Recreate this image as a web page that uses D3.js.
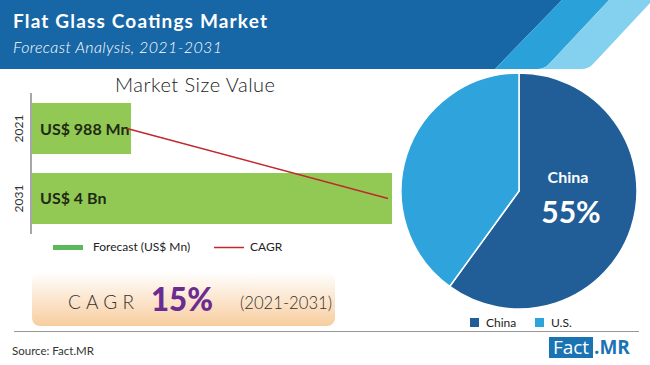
<!DOCTYPE html>
<html><head><meta charset="utf-8">
<script src="https://cdn.jsdelivr.net/npm/d3@7"></script>
<style>
html,body{margin:0;padding:0;background:#fff;}
svg{display:block;}
</style></head>
<body>
<svg id="c" width="650" height="365"></svg>
<script>
// ---- data ----
const title = "Flat Glass Coatings Market";
const subtitle = "Forecast Analysis, 2021-2031";
const barTitle = "Market Size Value";
const years = ["2021", "2031"];
const barValues = [1100, 4000];           // bar lengths as drawn (US$ Mn)
const barLabels = ["US$ 988 Mn", "US$ 4 Bn"];
const legendLabels = ["Forecast (US$ Mn)", "CAGR"];
const cagrText = ["CAGR", "15%", "(2021-2031)"];
const pieCategories = ["China", "U.S."];
const pieValues = [60, 40];               // shares as drawn
const pieLabel = ["China", "55%"];
const sourceText = "Source: Fact.MR";

const FONT = "Lato, 'Open Sans', sans-serif";
const svg = d3.select("#c");
const defs = svg.append("defs");

// ---- header ----
svg.append("path").attr("d","M0,0 L562,0 L495,69 L0,69 Z").attr("fill","#1766a6");
svg.append("path").attr("d","M562,0 L609,0 L550,63 Q545,69 537,69 L495,69 Z").attr("fill","#2ba1d9");
svg.append("path").attr("d","M609,0 L650,0 L650,3 L594,63 Q589,69 581,69 L537,69 Q545,69 550,63 Z").attr("fill","#84d0ef");
svg.append("text").attr("x",13).attr("y",28).attr("fill","#fff")
  .attr("font-family",FONT).attr("font-weight","bold").attr("font-size",19)
  .attr("textLength",254).attr("lengthAdjust","spacing").text(title);
svg.append("text").attr("x",13).attr("y",53).attr("fill","#fff")
  .attr("font-family",FONT).attr("font-style","italic").attr("font-weight","300").attr("font-size",16)
  .attr("textLength",209).attr("lengthAdjust","spacing").text(subtitle);

// ---- bar chart ----
const x = d3.scaleLinear().domain([0, 4000]).range([32, 392]);
const y = d3.scaleBand().domain(years).range([103, 224]).paddingInner(0.2714).paddingOuter(0);

svg.append("text").attr("x",115).attr("y",92).attr("fill","#222")
  .attr("font-family",FONT).attr("font-weight","300").attr("font-size",20)
  .attr("textLength",160).attr("lengthAdjust","spacing").text(barTitle);

svg.selectAll(".bar").data(years).enter().append("rect").attr("class","bar")
  .attr("x", x(0)).attr("y", d=>y(d)).attr("width", (d,i)=>x(barValues[i])-x(0)).attr("height", y.bandwidth())
  .attr("fill","#92c955");

// axis line
const yAxis = svg.append("g").attr("transform","translate(31,0)")
  .call(d3.axisLeft(y).tickSize(0).tickPadding(0).tickFormat(()=>""));
yAxis.select(".domain").remove();
svg.append("line").attr("x1",31).attr("x2",31).attr("y1",93).attr("y2",234).attr("stroke","#888").attr("stroke-width",1.5);

svg.selectAll(".yl").data(years).enter().append("text").attr("class","yl")
  .attr("transform", d=>`translate(23,${y(d)+y.bandwidth()/2}) rotate(-90)`)
  .attr("text-anchor","middle").attr("fill","#333")
  .attr("font-family",FONT).attr("font-size",12).text(d=>d);

svg.selectAll(".bl").data(years).enter().append("text").attr("class","bl")
  .attr("x",40).attr("y", d=>y(d)+y.bandwidth()/2+6)
  .attr("fill","#1f2a14").attr("font-family",FONT).attr("font-weight","bold").attr("font-size",16)
  .text((d,i)=>barLabels[i]);

// CAGR line
const line = d3.line().x((d,i)=>x(barValues[i])-4).y(d=>y(d)+y.bandwidth()/2);
svg.append("path").datum(years).attr("d", line).attr("fill","none").attr("stroke","#c1272d").attr("stroke-width",1.5);

// legend
svg.append("rect").attr("x",53).attr("y",245).attr("width",30).attr("height",5).attr("fill","#5cb85c");
svg.append("text").attr("x",93).attr("y",251).attr("fill","#222").attr("font-family",FONT).attr("font-size",12).text(legendLabels[0]);
svg.append("line").attr("x1",214).attr("x2",244).attr("y1",247.5).attr("y2",247.5).attr("stroke","#c1272d").attr("stroke-width",1.5);
svg.append("text").attr("x",250).attr("y",251).attr("fill","#222").attr("font-family",FONT).attr("font-size",12).text(legendLabels[1]);

// ---- CAGR box ----
const g = defs.append("linearGradient").attr("id","cg").attr("x1",0).attr("y1",0).attr("x2",0).attr("y2",1);
g.append("stop").attr("offset","0%").attr("stop-color","#ffffff");
g.append("stop").attr("offset","100%").attr("stop-color","#f8cd9e");
svg.append("rect").attr("x",32).attr("y",272).attr("width",303).attr("height",54).attr("rx",8).attr("fill","url(#cg)");
svg.append("text").attr("x",68).attr("y",309).attr("fill","#333").attr("font-family",FONT)
  .attr("font-size",19).attr("font-weight","300").attr("textLength",66).attr("lengthAdjust","spacing").text(cagrText[0]);
svg.append("text").attr("x",151).attr("y",311).attr("fill","#6b2c91").attr("font-family",FONT)
  .attr("font-size",33).attr("font-weight","900").attr("textLength",62).attr("lengthAdjust","spacingAndGlyphs").text(cagrText[1]);
svg.append("text").attr("x",240).attr("y",309).attr("fill","#333").attr("font-family",FONT)
  .attr("font-size",17).attr("font-weight","300").attr("textLength",92).attr("lengthAdjust","spacingAndGlyphs").text(cagrText[2]);

// separator and source
svg.append("line").attr("x1",14).attr("x2",639).attr("y1",331.5).attr("y2",331.5).attr("stroke","#999").attr("stroke-width",1.2);
svg.append("text").attr("x",12).attr("y",355).attr("fill","#333").attr("font-family",FONT).attr("font-size",11.5).text(sourceText);

// ---- pie ----
const pieColors = d3.scaleOrdinal().domain(pieCategories).range(["#215e97","#2ea3dc"]);
const pie = d3.pie().sort(null).value(d=>d.v);
const arc = d3.arc().innerRadius(0).outerRadius(118);
const pg = svg.append("g").attr("transform","translate(519,191)");
pg.selectAll("path").data(pie(pieCategories.map((c,i)=>({c, v: pieValues[i]})))).enter().append("path")
  .attr("d", arc).attr("fill", d=>pieColors(d.data.c)).attr("stroke","#fff").attr("stroke-width",1.5);
svg.append("text").attr("x",568).attr("y",183).attr("text-anchor","middle").attr("fill","#fff")
  .attr("font-family",FONT).attr("font-weight","bold").attr("font-size",16).text(pieLabel[0]);
svg.append("text").attr("x",571).attr("y",223).attr("text-anchor","middle").attr("fill","#fff")
  .attr("font-family",FONT).attr("font-weight","bold").attr("font-size",30).text(pieLabel[1]);

// pie legend
const pl = svg.selectAll(".pl").data(pieCategories).enter().append("g").attr("class","pl")
  .attr("transform",(d,i)=>`translate(${[470,535][i]},318)`);
pl.append("rect").attr("width",9).attr("height",9).attr("fill", d=>pieColors(d));
pl.append("text").attr("x",16).attr("y",9).attr("fill","#222").attr("font-family",FONT).attr("font-size",12).text(d=>d);

// logo
svg.append("rect").attr("x",549).attr("y",337).attr("width",44).attr("height",21).attr("fill","#1a73b2");
svg.append("text").attr("x",571).attr("y",354).attr("text-anchor","middle").attr("fill","#fff")
  .attr("font-family","'Open Sans', Lato, sans-serif").attr("font-size",19).text("Fact");
svg.append("text").attr("x",594).attr("y",354).attr("fill","#1a73b2")
  .attr("font-family","'Open Sans', Lato, sans-serif").attr("font-weight","bold").attr("font-size",19).text(".MR");
</script>
</body></html>
